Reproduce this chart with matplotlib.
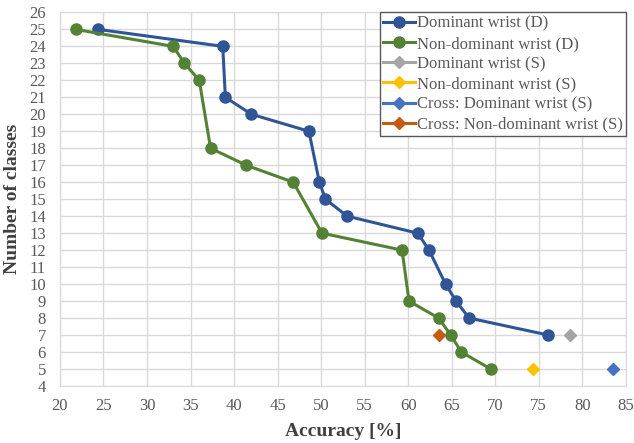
import matplotlib.pyplot as plt

# Data
dom_d_acc = [24.4, 38.7, 39.0, 42.0, 48.6, 49.8, 50.5, 53.0, 61.1, 62.4, 64.3, 65.5, 67.0, 76.1]
dom_d_cls = [25, 24, 21, 20, 19, 16, 15, 14, 13, 12, 10, 9, 8, 7]

nondom_d_acc = [21.8, 33.0, 34.3, 36.0, 37.3, 41.4, 46.8, 50.1, 59.3, 60.1, 63.5, 64.9, 66.1, 69.5]
nondom_d_cls = [25, 24, 23, 22, 18, 17, 16, 13, 12, 9, 8, 7, 6, 5]

dom_s_acc, dom_s_cls = [78.6], [7]
nondom_s_acc, nondom_s_cls = [74.3], [5]
cross_dom_acc, cross_dom_cls = [83.5], [5]
cross_nondom_acc, cross_nondom_cls = [63.6], [7]

plt.rcParams['font.family'] = ['Liberation Serif', 'DejaVu Serif']

fig = plt.figure(figsize=(6.34, 4.43), dpi=100)
ax = fig.add_axes([0.0946, 0.1287, 0.8924, 0.8433])

ax.plot(dom_d_acc, dom_d_cls, '-o', color='#2F5597', lw=2.2, ms=8, label='Dominant wrist (D)', zorder=3)
ax.plot(nondom_d_acc, nondom_d_cls, '-o', color='#548235', lw=2.2, ms=8, label='Non-dominant wrist (D)', zorder=3)
ax.plot(dom_s_acc, dom_s_cls, '-D', color='#A5A5A5', lw=2.2, ms=6, label='Dominant wrist (S)', zorder=3)
ax.plot(nondom_s_acc, nondom_s_cls, '-D', color='#FFC000', lw=2.2, ms=6, label='Non-dominant wrist (S)', zorder=3)
ax.plot(cross_dom_acc, cross_dom_cls, '-D', color='#4472C4', lw=2.2, ms=6, label='Cross: Dominant wrist (S)', zorder=3)
ax.plot(cross_nondom_acc, cross_nondom_cls, '-D', color='#C55A11', lw=2.2, ms=6, label='Cross: Non-dominant wrist (S)', zorder=3)

ax.set_xlim(20, 85)
ax.set_ylim(4, 26)
ax.set_xticks(range(20, 86, 5))
ax.set_yticks(range(4, 27))
ax.grid(True, color='#D9D9D9', lw=1)
ax.set_axisbelow(True)
for s in ax.spines.values():
    s.set_color('#D9D9D9')
ax.tick_params(length=0, labelsize=12, labelcolor='#595959')
ax.tick_params(axis='x', pad=9)
ax.tick_params(axis='y', pad=10)

ax.set_xlabel('Accuracy [%]', fontsize=14, fontweight='bold', color='#404040', labelpad=6)
ax.set_ylabel('Number of classes', fontsize=14, fontweight='bold', color='#404040', labelpad=6)

leg = ax.legend(loc='upper right', fontsize=12, handlelength=1.9, handletextpad=0.1,
                borderpad=0.2, labelspacing=0.25, fancybox=False, framealpha=1,
                borderaxespad=0)
leg.get_frame().set_edgecolor('#595959')
for t in leg.get_texts():
    t.set_color('#595959')

fig.savefig('out.png', dpi=100)
